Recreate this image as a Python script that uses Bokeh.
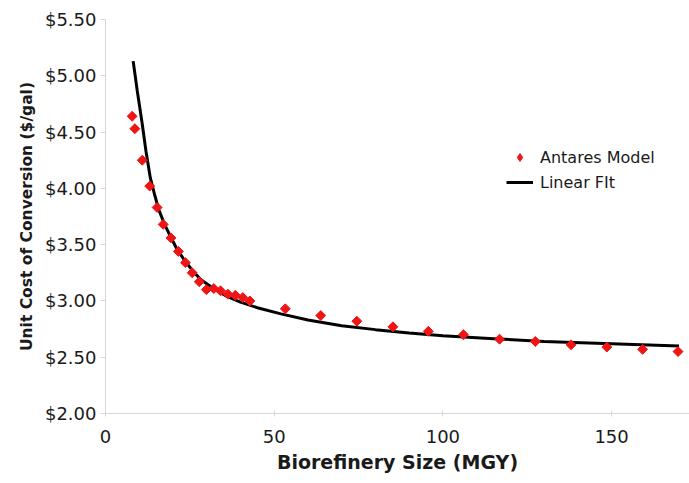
import numpy as np
from bokeh.plotting import figure
from bokeh.models import (FixedTicker, NumeralTickFormatter,
                          Legend, LegendItem, Range1d)
from bokeh.embed import file_html
from bokeh.resources import INLINE

# Antares Model points (MGY, $/gal)
model_x = [7.9, 8.7, 10.9, 13.1, 15.3, 17.1, 19.4, 21.6, 23.7, 25.7, 27.8, 29.9,
           32.1, 34.1, 36.3, 38.5, 40.7, 42.8,
           53.3, 63.8, 74.5, 85.2, 95.7, 106.1, 116.8, 127.4, 138.0, 148.6, 159.2, 169.7]
model_y = [4.64, 4.53, 4.25, 4.02, 3.83, 3.68, 3.56, 3.44, 3.34, 3.25, 3.17, 3.10,
           3.11, 3.09, 3.06, 3.05, 3.03, 3.00,
           2.93, 2.87, 2.82, 2.77, 2.73, 2.70, 2.66, 2.64, 2.61, 2.59, 2.57, 2.55]

# Fit curve
fit_x = [8.2, 9.4, 10.9, 12.0, 13.3, 14.5, 15.8, 17.5, 19.3, 21.0, 23.2, 25.5, 28.2,
         32.0, 36.0, 40.0, 45.0, 52.0, 60.0, 70.0, 80.0, 90.0, 100.0, 115.0, 130.0,
         150.0, 170.0]
fit_y = [5.13, 4.87, 4.57, 4.33, 4.09, 3.95, 3.81, 3.68, 3.57, 3.47, 3.37, 3.28, 3.19,
         3.11, 3.04, 2.99, 2.94, 2.885, 2.83, 2.78, 2.745, 2.715, 2.69, 2.665, 2.64,
         2.62, 2.60]

x_ticks = [0, 50, 100, 150]
y_ticks = [2.0, 2.5, 3.0, 3.5, 4.0, 4.5, 5.0, 5.5]

FONT = "DejaVu Sans"
TXT = "#1a1a1a"
AX = "#d4d8d8"
RED = "#f01414"

p = figure(width=689, height=483, output_backend="svg", toolbar_location=None,
           x_range=Range1d(0, 173.1), y_range=Range1d(2.0, 5.5),
           min_border_left=105, min_border_right=0, min_border_top=19,
           min_border_bottom=70)
p.outline_line_color = None
p.xgrid.visible = False
p.ygrid.visible = False
p.background_fill_color = "white"
p.border_fill_color = "white"

line_r = p.line(fit_x, fit_y, line_color="black", line_width=3)
pts_r = p.scatter(model_x, model_y, marker="square", angle=np.pi / 4, size=7,
                  fill_color=RED, line_color=RED)
# legend-only glyph (a diamond shape), placed outside the visible range
leg_pts = p.scatter(x=[-1000], y=[-1000], marker="diamond", size=12,
                    fill_color=RED, line_color=RED)

# axes
xa = p.xaxis[0]
xa.ticker = FixedTicker(ticks=x_ticks)
xa.axis_line_color = AX
xa.major_tick_line_color = AX
xa.major_tick_in = 3
xa.major_tick_out = 3
xa.minor_tick_line_color = None
xa.major_label_text_font = FONT
xa.major_label_text_font_size = "18px"
xa.major_label_text_color = TXT
xa.major_label_standoff = 13
xa.axis_label = "Biorefinery Size (MGY)"
xa.axis_label_text_font = FONT
xa.axis_label_text_font_style = "bold"
xa.axis_label_text_font_size = "19px"
xa.axis_label_text_color = TXT
xa.axis_label_standoff = 5

ya = p.yaxis[0]
ya.ticker = FixedTicker(ticks=y_ticks)
ya.formatter = NumeralTickFormatter(format="$0.00")
ya.axis_line_color = AX
ya.major_tick_line_color = AX
ya.major_tick_in = 0
ya.major_tick_out = 5
ya.minor_tick_line_color = None
ya.major_label_text_font = FONT
ya.major_label_text_font_size = "18px"
ya.major_label_text_color = TXT
ya.major_label_standoff = 4
ya.axis_label = "Unit Cost of Conversion ($/gal)"
ya.axis_label_text_font = FONT
ya.axis_label_text_font_style = "bold"
ya.axis_label_text_font_size = "15.5px"
ya.axis_label_text_color = TXT
ya.axis_label_standoff = 6

legend = Legend(items=[LegendItem(label="Antares Model", renderers=[leg_pts]),
                       LegendItem(label="Linear FIt", renderers=[line_r])],
                location=(401, 221), orientation="vertical",
                label_text_font=FONT, label_text_font_size="16px",
                label_text_color=TXT, glyph_width=27, glyph_height=20,
                label_standoff=7, spacing=5, padding=0, margin=0,
                border_line_alpha=0, background_fill_alpha=0)
p.add_layout(legend, "center")

open("out.html", "w").write(file_html(p, INLINE))
